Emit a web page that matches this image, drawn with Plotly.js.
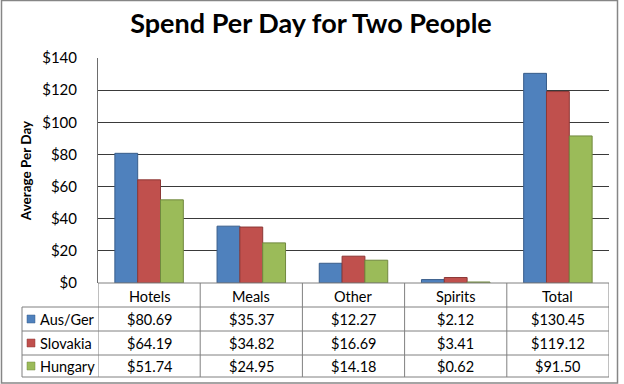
<!DOCTYPE html>
<html>
<head>
<meta charset="utf-8">
<script src="https://cdn.plot.ly/plotly-3.0.1.min.js"></script>
<style>html,body{margin:0;padding:0;background:#fff;}#chart{width:624px;height:384px;}</style>
</head>
<body>
<div id="chart"></div>
<script>
const categories = ["Hotels", "Meals", "Other", "Spirits", "Total"];
const seriesNames = ["Aus/Ger", "Slovakia", "Hungary"];
const ausGer = [80.69, 35.37, 12.27, 2.12, 130.45];
const slovakia = [64.19, 34.82, 16.69, 3.41, 119.12];
const hungary = [51.74, 24.95, 14.18, 0.62, 91.50];
const fillColors = ["#4F81BD", "#C0504D", "#9BBB59"];
const lineColors = ["#385D8A", "#8C3836", "#71893F"];
const tickVals = [0, 20, 40, 60, 80, 100, 120, 140];

const W = 624, H = 384;
const L = 98, R = 609, T = 58, B = 283;
const px2x = p => (p - L) / (R - L);
const px2y = p => (B - p) / (B - T);

const seriesValues = [ausGer, slovakia, hungary];
const FONT = "Lato, 'Open Sans', sans-serif";

const traces = seriesValues.map((vals, i) => ({
  type: "bar",
  name: seriesNames[i],
  x: categories,
  y: vals,
  marker: {color: fillColors[i], line: {color: lineColors[i], width: 1}},
  hoverinfo: "skip"
}));

// table geometry (pixels)
const rowLines = [283, 307, 331, 355, 377];
const tableLeft = 22;

const shapes = [];
const annotations = [];
const lineStyle = {color: "#808080", width: 1};

rowLines.forEach((p, k) => {
  shapes.push({type: "line", xref: "paper", yref: "paper",
    x0: k === 0 ? 0 : px2x(tableLeft), x1: 1, y0: px2y(p), y1: px2y(p), line: lineStyle});
});
for (let i = 0; i <= categories.length; i++) {
  shapes.push({type: "line", xref: "x", yref: "paper",
    x0: i - 0.5, x1: i - 0.5, y0: px2y(rowLines[0]), y1: px2y(rowLines[4]), line: lineStyle});
}
shapes.push({type: "line", xref: "paper", yref: "paper",
  x0: px2x(tableLeft), x1: px2x(tableLeft), y0: px2y(rowLines[1]), y1: px2y(rowLines[4]), line: lineStyle});

categories.forEach((c, i) => {
  annotations.push({xref: "x", yref: "paper", x: c, y: px2y((rowLines[0] + rowLines[1]) / 2 + 1),
    text: c, showarrow: false, font: {family: FONT, size: 14.5, color: "#000"}, yanchor: "middle"});
});
seriesValues.forEach((vals, r) => {
  const yc = px2y((rowLines[r + 1] + rowLines[r + 2]) / 2 + 0.5);
  vals.forEach((v, i) => {
    annotations.push({xref: "x", yref: "paper", x: categories[i], y: yc,
      text: "$" + v.toFixed(2), showarrow: false, font: {family: FONT, size: 14.5, color: "#000"}, yanchor: "middle"});
  });
  const ym = (rowLines[r + 1] + rowLines[r + 2]) / 2;
  shapes.push({type: "rect", xref: "paper", yref: "paper",
    x0: px2x(27), x1: px2x(35), y0: px2y(ym + 4), y1: px2y(ym - 4),
    fillcolor: fillColors[r], line: {color: lineColors[r], width: 0.5}});
  annotations.push({xref: "paper", yref: "paper", x: px2x(38), y: yc, xanchor: "left", yanchor: "middle",
    text: seriesNames[r], showarrow: false, font: {family: FONT, size: 14.5, color: "#000"}});
});

shapes.push({type: "rect", xref: "paper", yref: "paper",
  x0: px2x(1.5), x1: px2x(617.5), y0: px2y(383), y1: px2y(0.5),
  line: {color: "#868686", width: 1.5}, fillcolor: "rgba(0,0,0,0)"});

const layout = {
  width: W, height: H,
  margin: {l: L, r: W - R, t: T, b: H - B, pad: 0},
  paper_bgcolor: "#fff", plot_bgcolor: "#fff",
  showlegend: false,
  barmode: "group",
  bargap: 0.33,
  bargroupgap: 0,
  title: {text: "<b>Spend Per Day for Two People</b>", x: 311 / W, xanchor: "center",
    y: 1 - 24 / H, yref: "container", yanchor: "middle",
    font: {family: FONT, size: 27, color: "#000"}},
  xaxis: {type: "category", range: [-0.5, 4.5], showticklabels: false, showgrid: false,
    zeroline: false, showline: false, ticks: "", fixedrange: true},
  yaxis: {range: [0, 140], tickvals: tickVals, ticktext: tickVals.map(v => "$" + v),
    showgrid: true, gridcolor: "#3a3a3a", gridwidth: 1, zeroline: false,
    showline: true, linecolor: "#6d6d6d", linewidth: 1, mirror: false, ticks: "",
    ticklabelstandoff: 17,
    tickfont: {family: FONT, size: 15, color: "#000"},
    title: {text: "<b>Average Per Day</b>", standoff: 7, font: {family: FONT, size: 13.5, color: "#000"}}},
  shapes: shapes,
  annotations: annotations
};

Plotly.newPlot("chart", traces, layout, {displayModeBar: false, staticPlot: true});
</script>
</body>
</html>
